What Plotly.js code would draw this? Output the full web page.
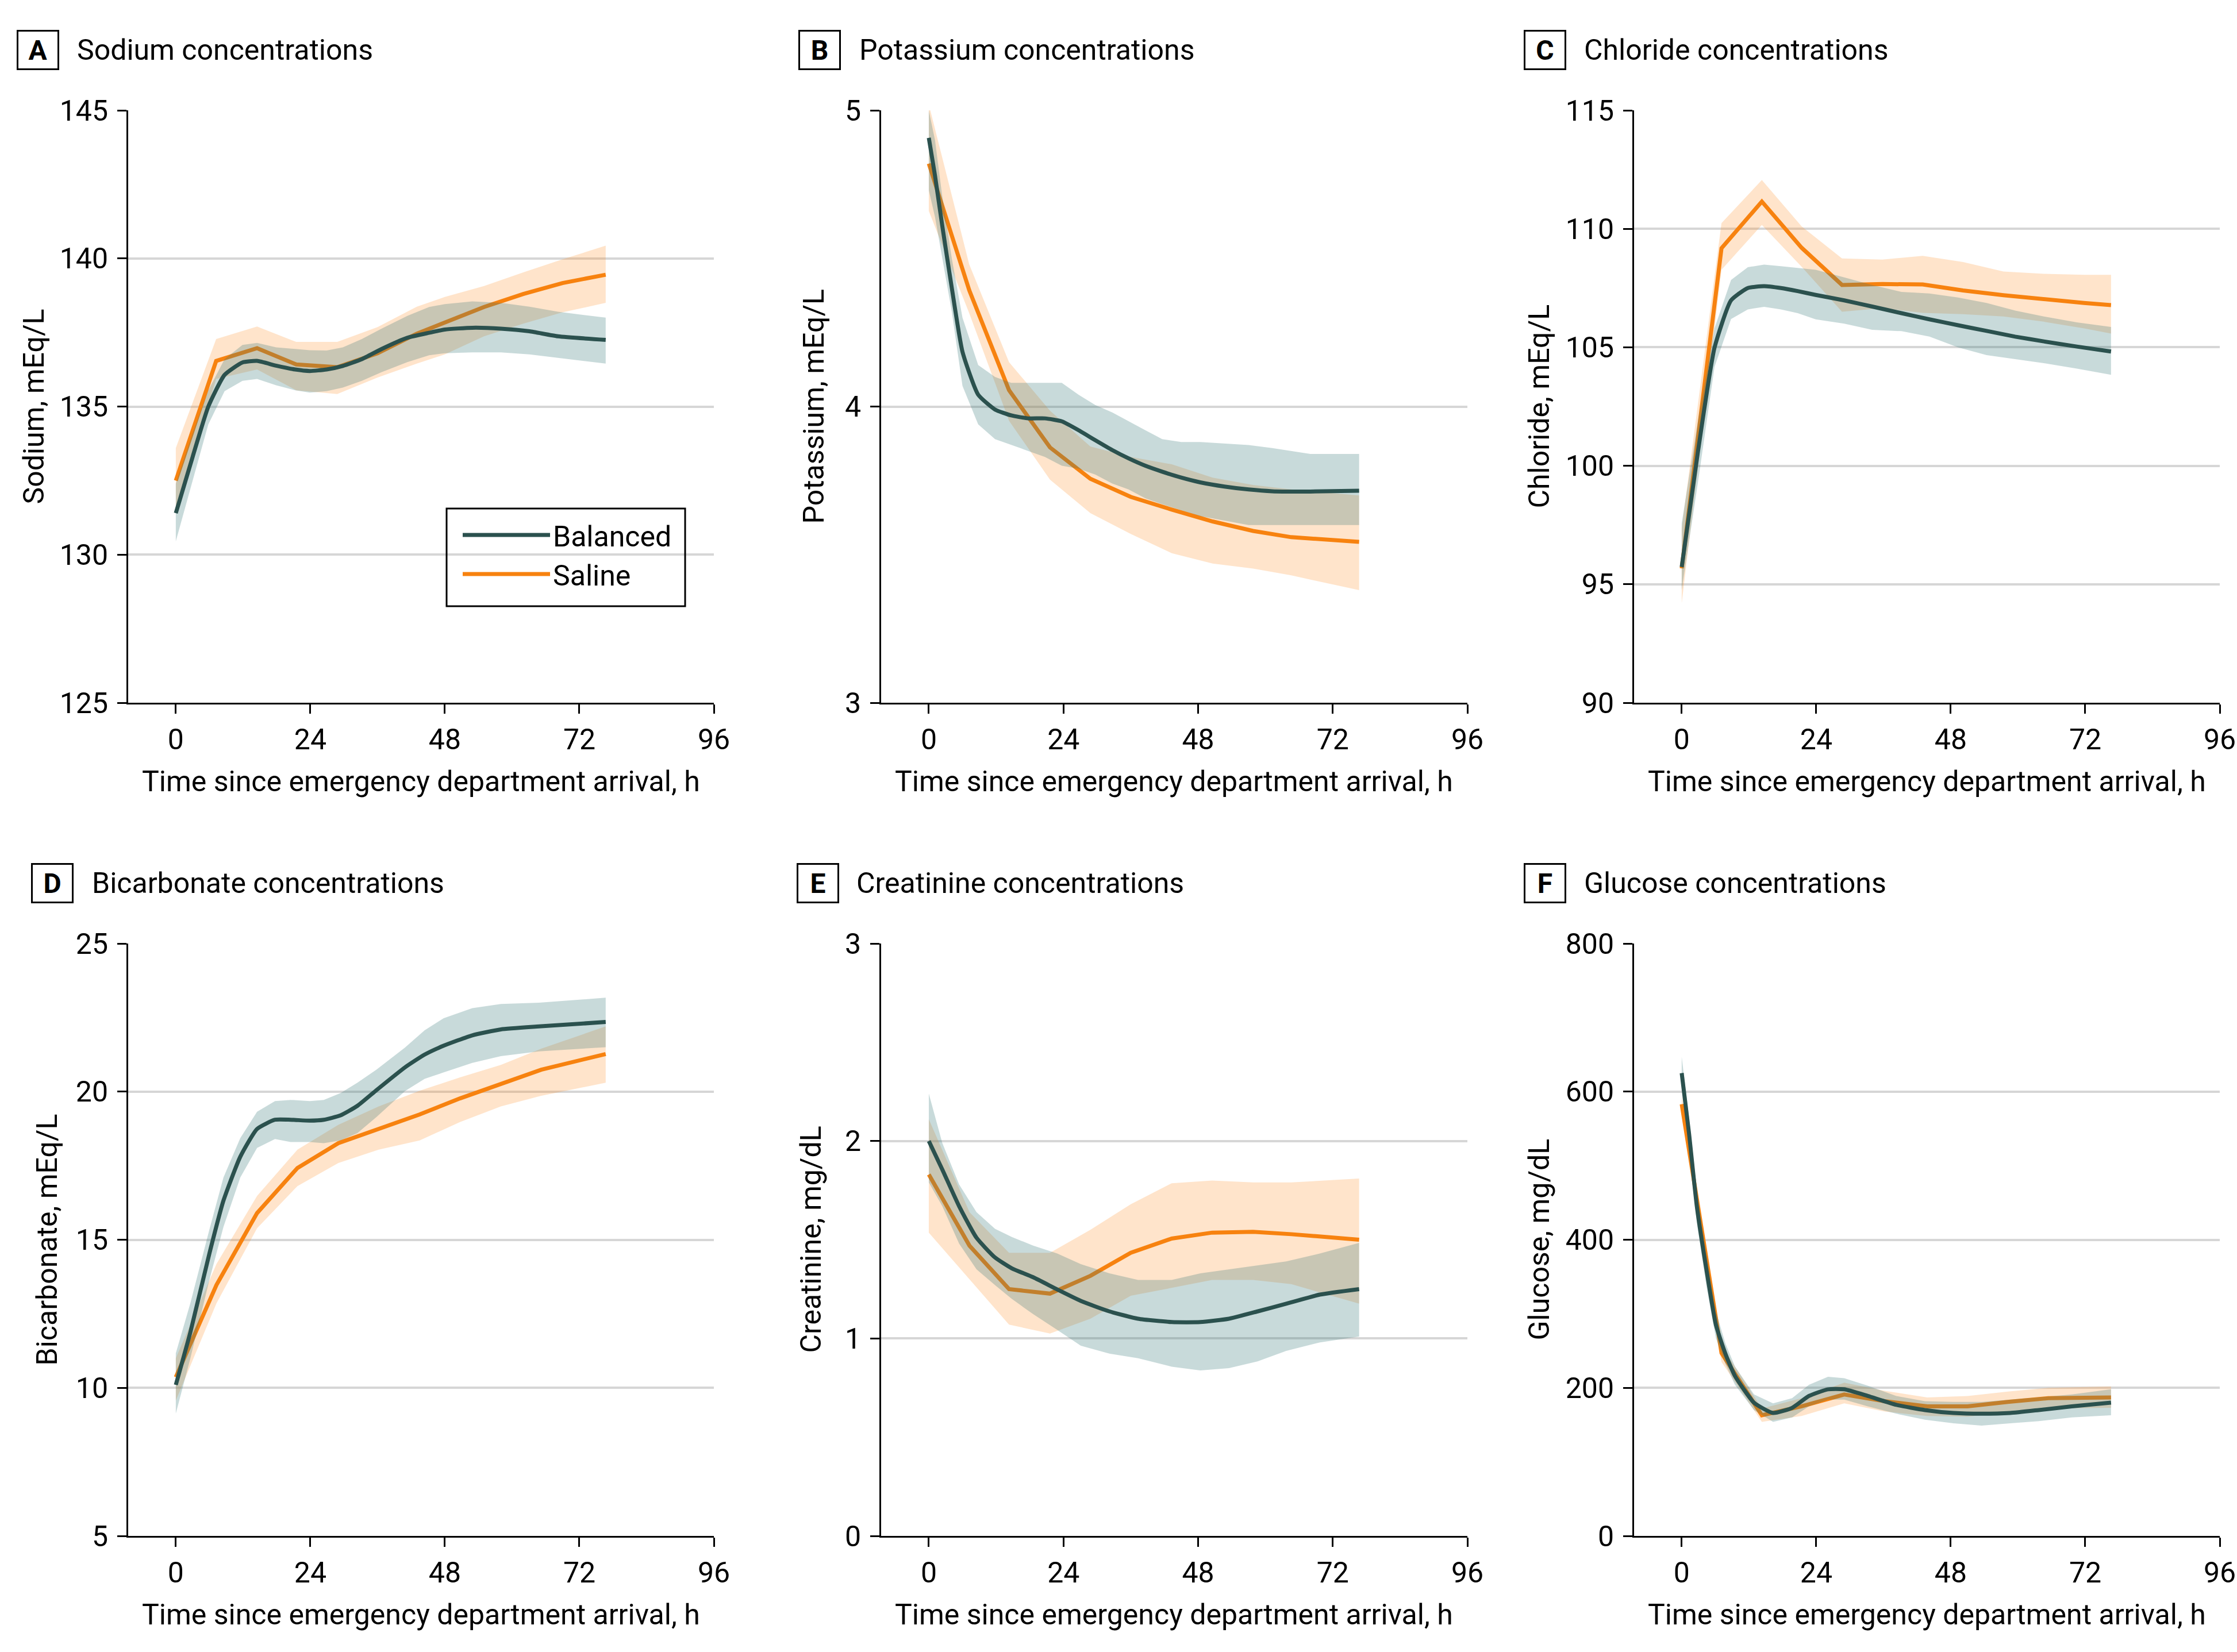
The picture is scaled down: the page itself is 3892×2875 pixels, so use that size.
<!DOCTYPE html>
<html><head><meta charset="utf-8">
<script src="https://cdn.plot.ly/plotly-3.0.1.min.js"></script>
<style>html,body{margin:0;padding:0;background:#fff}#chart{width:3892px;height:2875px}</style>
</head><body><div id="chart"></div>
<script>
// ---------------- DATA ----------------
const seriesNames = ['Balanced', 'Saline'];
const xTickVals = [0, 24, 48, 72, 96];
const xTitle = 'Time since emergency department arrival, h';

const panelLetters = ['A', 'B', 'C', 'D', 'E', 'F'];
const panelTitles = ['Sodium concentrations', 'Potassium concentrations', 'Chloride concentrations',
  'Bicarbonate concentrations', 'Creatinine concentrations', 'Glucose concentrations'];
const yTitles = ['Sodium, mEq/L', 'Potassium, mEq/L', 'Chloride, mEq/L',
  'Bicarbonate, mEq/L', 'Creatinine, mg/dL', 'Glucose, mg/dL'];
const yRanges = [[125, 145], [3, 5], [90, 115], [5, 25], [0, 3], [0, 800]];
const yTickStep = [5, 1, 5, 5, 1, 200];

// Sodium
const naSalX = [0, 7.2, 14.5, 21.5, 28.8, 36, 43, 48, 55, 62, 69, 76.7];
const naSalMean = [132.5, 136.54, 136.97, 136.42, 136.33, 136.8, 137.46, 137.84, 138.36, 138.8, 139.17, 139.45];
const naSalHi = [133.6, 137.28, 137.7, 137.18, 137.18, 137.68, 138.37, 138.7, 139.07, 139.53, 139.97, 140.43];
const naSalLo = [131.5, 135.93, 136.25, 135.55, 135.42, 135.98, 136.45, 136.76, 137.37, 137.8, 138.18, 138.5];
const naBalX = [0, 3, 5.8, 8.7, 11.9, 14.5, 17.9, 21.3, 23.9, 26.9, 29.8, 33.2, 36.7, 41.3, 45.2, 48, 52.9, 58, 63.1, 68.2, 76.7];
const naBalMean = [131.4, 133.3, 135.0, 136.07, 136.49, 136.54, 136.38, 136.25, 136.2, 136.25, 136.37, 136.6, 136.94, 137.32, 137.49, 137.6, 137.66, 137.63, 137.54, 137.37, 137.25];
const naBalHi = [132.4, 134.1, 135.55, 136.6, 137.08, 137.15, 137.0, 136.94, 136.9, 136.89, 137.0, 137.28, 137.63, 138.06, 138.36, 138.46, 138.55, 138.5, 138.37, 138.2, 138.0];
const naBalLo = [130.45, 132.5, 134.4, 135.52, 135.87, 135.93, 135.72, 135.55, 135.47, 135.52, 135.64, 135.87, 136.16, 136.5, 136.73, 136.8, 136.83, 136.83, 136.76, 136.64, 136.45];

// Potassium
const kSalX = [0, 7.2, 14.3, 21.6, 28.8, 36, 43.3, 50.6, 57.8, 64.6, 76.7];
const kSalMean = [4.82, 4.393, 4.055, 3.862, 3.756, 3.695, 3.652, 3.612, 3.58, 3.559, 3.543];
const kSalHi = [5.02, 4.48, 4.15, 3.986, 3.865, 3.83, 3.805, 3.76, 3.735, 3.72, 3.70];
const kSalLo = [4.66, 4.315, 3.952, 3.753, 3.64, 3.57, 3.505, 3.47, 3.453, 3.43, 3.38];
const kBalX = [0, 1.1, 2.4, 4.1, 6, 8.8, 11.8, 14.7, 17.7, 20.7, 23.7, 26.7, 29.7, 32.7, 35.6, 38.6, 41.6, 45, 48.4, 52.7, 57, 61.2, 68, 76.7];
const kBalMean = [4.907, 4.78, 4.61, 4.4, 4.185, 4.04, 3.99, 3.97, 3.96, 3.96, 3.95, 3.92, 3.886, 3.853, 3.825, 3.8, 3.78, 3.76, 3.744, 3.73, 3.72, 3.714, 3.713, 3.716];
const kBalHi = [5.0, 4.9, 4.71, 4.5, 4.3, 4.14, 4.1, 4.08, 4.08, 4.08, 4.08, 4.04, 4.005, 3.98, 3.95, 3.92, 3.89, 3.88, 3.88, 3.875, 3.87, 3.86, 3.84, 3.84];
const kBalLo = [4.73, 4.64, 4.5, 4.32, 4.07, 3.94, 3.89, 3.87, 3.85, 3.83, 3.80, 3.79, 3.77, 3.74, 3.72, 3.69, 3.67, 3.65, 3.63, 3.615, 3.6, 3.6, 3.6, 3.6];

// Chloride
const clSalX = [0, 7.1, 14.3, 21.4, 28.6, 35.8, 43, 50.2, 57.4, 64.6, 71.8, 76.6];
const clSalMean = [95.67, 109.18, 111.15, 109.2, 107.63, 107.67, 107.65, 107.4, 107.2, 107.02, 106.87, 106.78];
const clSalHi = [97.35, 110.24, 112.06, 110.1, 108.75, 108.7, 108.86, 108.6, 108.2, 108.1, 108.06, 108.06];
const clSalLo = [94.2, 108.27, 110.16, 108.4, 106.5, 106.65, 106.45, 106.4, 106.3, 106.08, 105.8, 105.58];
const clBalX = [0, 2.9, 5.85, 8.8, 11.8, 14.7, 17.7, 20.7, 23.9, 29, 34, 39.2, 44.2, 49.3, 54.4, 59.5, 64.6, 70.5, 76.6];
const clBalMean = [95.73, 100.6, 104.98, 106.98, 107.5, 107.58, 107.5, 107.37, 107.21, 106.98, 106.72, 106.44, 106.18, 105.93, 105.69, 105.45, 105.25, 105.03, 104.82];
const clBalHi = [97.57, 101.9, 105.8, 107.84, 108.38, 108.49, 108.42, 108.34, 108.27, 107.95, 107.63, 107.34, 107.27, 107.1, 106.87, 106.55, 106.3, 106.05, 105.86];
const clBalLo = [94.76, 99.3, 104.17, 106.19, 106.6, 106.71, 106.6, 106.44, 106.18, 106.0, 105.74, 105.68, 105.45, 105.0, 104.67, 104.5, 104.33, 104.1, 103.84];

// Bicarbonate
const hco3SalX = [0, 7.25, 14.5, 21.7, 29, 36.2, 43.5, 50.7, 58, 65.2, 76.7];
const hco3SalMean = [10.36, 13.47, 15.9, 17.42, 18.26, 18.75, 19.23, 19.77, 20.27, 20.74, 21.27];
const hco3SalHi = [11.0, 14.18, 16.48, 18.04, 18.88, 19.5, 20.03, 20.48, 20.9, 21.45, 22.2];
const hco3SalLo = [9.57, 12.85, 15.39, 16.81, 17.59, 18.04, 18.35, 18.97, 19.5, 19.86, 20.3];
const hco3BalX = [0, 2.6, 6, 8.5, 11.5, 14.5, 17.7, 20.5, 23.9, 26.4, 29.4, 32.4, 35.8, 40.9, 44.4, 47.8, 52.9, 58, 64.8, 76.7];
const hco3BalMean = [10.1, 11.88, 14.54, 16.32, 17.8, 18.74, 19.05, 19.05, 19.02, 19.05, 19.2, 19.52, 20.05, 20.82, 21.25, 21.55, 21.9, 22.1, 22.2, 22.35];
const hco3BalHi = [11.17, 12.86, 15.35, 17.1, 18.43, 19.32, 19.68, 19.72, 19.68, 19.72, 19.95, 20.3, 20.74, 21.49, 22.07, 22.48, 22.82, 22.96, 23.0, 23.17];
const hco3BalLo = [9.13, 11.0, 13.65, 15.43, 17.1, 18.1, 18.4, 18.3, 18.3, 18.26, 18.35, 18.6, 19.14, 20.02, 20.43, 20.65, 20.97, 21.2, 21.36, 21.5];

// Creatinine
const crSalX = [0, 7.25, 14.3, 21.6, 28.8, 36, 43.3, 50.5, 57.8, 64.6, 76.7];
const crSalMean = [1.83, 1.47, 1.25, 1.227, 1.317, 1.434, 1.506, 1.536, 1.54, 1.528, 1.5];
const crSalHi = [2.11, 1.64, 1.434, 1.434, 1.55, 1.68, 1.786, 1.8, 1.79, 1.79, 1.81];
const crSalLo = [1.536, 1.3, 1.07, 1.025, 1.1, 1.216, 1.256, 1.296, 1.296, 1.275, 1.176];
const crBalX = [0, 2.4, 5.4, 8.5, 11.8, 14.8, 18.6, 22.9, 27.1, 32.2, 37.3, 43.3, 48.4, 53.5, 58.6, 63.7, 69.7, 76.7];
const crBalMean = [2.0, 1.856, 1.67, 1.51, 1.41, 1.355, 1.31, 1.248, 1.19, 1.137, 1.1, 1.083, 1.083, 1.1, 1.137, 1.176, 1.222, 1.25];
const crBalHi = [2.24, 1.99, 1.78, 1.64, 1.555, 1.514, 1.47, 1.43, 1.376, 1.33, 1.296, 1.296, 1.33, 1.35, 1.368, 1.39, 1.43, 1.484];
const crBalLo = [1.79, 1.67, 1.48, 1.35, 1.27, 1.2, 1.123, 1.043, 0.963, 0.923, 0.9, 0.857, 0.838, 0.85, 0.884, 0.937, 0.98, 1.01];

// Glucose
const gluSalX = [0, 7.1, 14.3, 21.4, 29, 36.2, 43.8, 51, 58.2, 65.4, 76.6];
const gluSalMean = [583, 247, 163, 175, 191, 182, 175, 175, 181, 186, 187];
const gluSalHi = [594, 257, 172, 186, 207, 196, 187, 189, 195, 200, 202];
const gluSalLo = [569, 235, 154, 162, 179, 168, 162, 161, 167, 172, 173];
const gluBalX = [0, 1.3, 2.7, 4.4, 6.1, 7.8, 9.5, 12.9, 16.3, 19.7, 22.7, 26.1, 29, 33.2, 38.3, 43.4, 48.5, 53.5, 58.6, 63.7, 69.6, 76.6];
const gluBalMean = [625, 544, 445, 360, 285, 246, 216, 180, 166, 173, 189, 198, 198, 189, 177, 170, 166, 165, 166, 170, 175, 180];
const gluBalHi = [647, 565, 466, 381, 303, 260, 229, 191, 179, 186, 204, 215, 213, 203, 189, 182, 181, 181, 184, 187, 191, 198];
const gluBalLo = [608, 523, 423, 338, 267, 232, 204, 170, 154, 160, 175, 184, 184, 175, 165, 157, 152, 149, 152, 155, 160, 163];

// ---------------- STYLE ----------------
const W = 3892, H = 2875;
const FONT = 'Roboto, "Noto Sans", sans-serif';
const BAL_LINE = '#2b514e';
const SAL_LINE = '#f7820f';
const BAL_FILL = 'rgba(58,123,123,0.28)';
const SAL_FILL = 'rgba(255,140,30,0.23)';
const LINE_W = 7;
const TICK_SIZE = 50;
const AXTITLE_SIZE = 50;

// panel geometry in pixels
const colX = [[223, 1242], [1533, 2553], [2843, 3862]];
const rowY = [[192, 1223], [1642, 2673]];
const boxCenters = [[65.5, 87], [1426, 87], [2687.5, 87], [91, 1537], [1422.5, 1537], [2687.5, 1537]];
const titleLeft = [132, 1493, 2754, 158, 1488, 2754];
const yTitleX = [58, 1415, 2677, 81, 1410, 2677];

const panels = [
  [naSalX, naSalMean, naSalLo, naSalHi, naBalX, naBalMean, naBalLo, naBalHi],
  [kSalX, kSalMean, kSalLo, kSalHi, kBalX, kBalMean, kBalLo, kBalHi],
  [clSalX, clSalMean, clSalLo, clSalHi, clBalX, clBalMean, clBalLo, clBalHi],
  [hco3SalX, hco3SalMean, hco3SalLo, hco3SalHi, hco3BalX, hco3BalMean, hco3BalLo, hco3BalHi],
  [crSalX, crSalMean, crSalLo, crSalHi, crBalX, crBalMean, crBalLo, crBalHi],
  [gluSalX, gluSalMean, gluSalLo, gluSalHi, gluBalX, gluBalMean, gluBalLo, gluBalHi]
];

const px = v => v / W;
const py = v => 1 - v / H;

const traces = [];
const layout = {
  width: W, height: H,
  margin: {l: 0, r: 0, t: 0, b: 0},
  paper_bgcolor: '#fff', plot_bgcolor: '#fff',
  font: {family: FONT, color: '#000', size: 46},
  showlegend: true,
  legend: {
    x: px(800), y: py(892), xanchor: 'left', yanchor: 'top',
    borderwidth: 0, bgcolor: 'rgba(255,255,255,0)',
    font: {family: FONT, size: 50, color: '#000'},
    itemwidth: 152, traceorder: 'normal', tracegroupgap: 0
  },
  shapes: [{
    type: 'rect', xref: 'paper', yref: 'paper',
    x0: px(777), x1: px(1192), y0: py(1055), y1: py(885),
    line: {color: '#000', width: 3}, fillcolor: 'rgba(0,0,0,0)', layer: 'above'
  }],
  annotations: []
};

function band(x, lo, hi, color, xa, ya) {
  return {
    x: x.concat(x.slice().reverse()),
    y: hi.concat(lo.slice().reverse()),
    xaxis: xa, yaxis: ya, type: 'scatter', mode: 'lines',
    fill: 'toself', fillcolor: color, line: {width: 0},
    hoverinfo: 'skip', showlegend: false
  };
}

panels.forEach((p, i) => {
  const n = i + 1;
  const xa = 'x' + (n > 1 ? n : '');
  const ya = 'y' + (n > 1 ? n : '');
  const [sX, sM, sLo, sHi, bX, bM, bLo, bHi] = p;
  traces.push(band(sX, sLo, sHi, SAL_FILL, xa, ya));
  traces.push({x: sX, y: sM, xaxis: xa, yaxis: ya, type: 'scatter', mode: 'lines',
    name: seriesNames[1], line: {color: SAL_LINE, width: LINE_W}, showlegend: i === 0, legendrank: 2});
  traces.push(band(bX, bLo, bHi, BAL_FILL, xa, ya));
  traces.push({x: bX, y: bM, xaxis: xa, yaxis: ya, type: 'scatter', mode: 'lines',
    name: seriesNames[0], line: {color: BAL_LINE, width: LINE_W, shape: 'spline', smoothing: 0.5},
    showlegend: i === 0, legendrank: 1});

  const col = i % 3, row = Math.floor(i / 3);
  const xd = [px(colX[col][0]), px(colX[col][1])];
  const yd = [py(rowY[row][1]), py(rowY[row][0])];
  const yr = yRanges[i];
  const yt = [];
  for (let v = yr[0]; v <= yr[1] + 1e-9; v += yTickStep[i]) yt.push(v);

  layout['xaxis' + (n > 1 ? n : '')] = {
    domain: xd, anchor: ya, range: [-8.5, 96], tickvals: xTickVals,
    showline: true, linecolor: '#000', linewidth: 3,
    ticks: 'outside', ticklen: 16, tickwidth: 3, tickcolor: '#000',
    showgrid: false, zeroline: false, fixedrange: true,
    tickfont: {family: FONT, size: TICK_SIZE, color: '#000'}, ticklabelstandoff: 2
  };
  layout['yaxis' + (n > 1 ? n : '')] = {
    domain: yd, anchor: xa, range: yr, tickvals: yt,
    showline: true, linecolor: '#000', linewidth: 3,
    ticks: 'outside', ticklen: 16, tickwidth: 3, tickcolor: '#000',
    showgrid: true, gridcolor: '#d6d6d6', gridwidth: 4, zeroline: false, fixedrange: true,
    tickfont: {family: FONT, size: TICK_SIZE, color: '#000'}, ticklabelstandoff: 6
  };

  // panel letter box
  layout.annotations.push({
    xref: 'paper', yref: 'paper', x: px(boxCenters[i][0]), y: py(boxCenters[i][1]),
    xanchor: 'center', yanchor: 'middle', showarrow: false,
    text: '<b>' + panelLetters[i] + '</b>', font: {family: FONT, size: 48, color: '#000'},
    bordercolor: '#000', borderwidth: 3, borderpad: 0, width: 68, height: 64, align: 'center'
  });
  // panel title
  layout.annotations.push({
    xref: 'paper', yref: 'paper', x: px(titleLeft[i]), y: py(boxCenters[i][1]),
    xanchor: 'left', yanchor: 'middle', showarrow: false,
    text: panelTitles[i], font: {family: FONT, size: 50, color: '#000'}
  });
  // x axis title
  layout.annotations.push({
    xref: 'paper', yref: 'paper', x: (xd[0] + xd[1]) / 2, y: py(rowY[row][1] + 137),
    xanchor: 'center', yanchor: 'middle', showarrow: false,
    text: xTitle, font: {family: FONT, size: AXTITLE_SIZE, color: '#000'}
  });
  // y axis title
  layout.annotations.push({
    xref: 'paper', yref: 'paper', x: px(yTitleX[i]), y: (yd[0] + yd[1]) / 2,
    xanchor: 'center', yanchor: 'middle', showarrow: false, textangle: -90,
    text: yTitles[i], font: {family: FONT, size: AXTITLE_SIZE, color: '#000'}
  });
});

Plotly.newPlot('chart', traces, layout, {staticPlot: true, displayModeBar: false});
</script>
</body></html>
